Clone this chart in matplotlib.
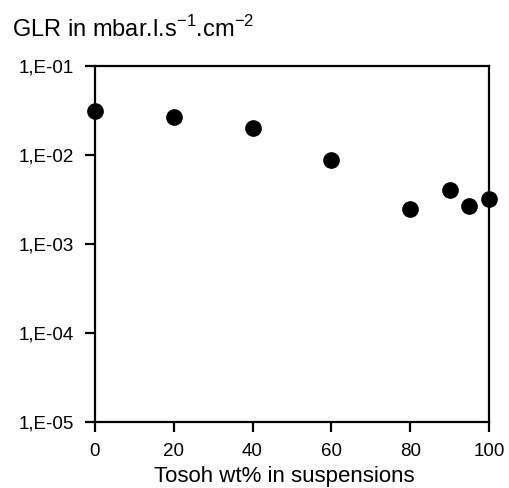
import matplotlib
matplotlib.use("Agg")
import matplotlib.pyplot as plt
from matplotlib.ticker import FixedLocator, NullLocator

plt.rcParams['font.family'] = ['Liberation Sans', 'DejaVu Sans']

# data
tosoh = [0, 20, 40, 60, 80, 90, 95, 100]
glr = [3.1e-2, 2.7e-2, 2.0e-2, 8.7e-3, 2.5e-3, 4.0e-3, 2.7e-3, 3.2e-3]
ytick_vals = [1e-5, 1e-4, 1e-3, 1e-2, 1e-1]
ytick_labels = ["1,E-05", "1,E-04", "1,E-03", "1,E-02", "1,E-01"]
xtick_vals = [0, 20, 40, 60, 80, 100]

fig = plt.figure(figsize=(5.1, 4.88), dpi=100)
ax = fig.add_axes([0.186, 0.135, 0.773, 0.73])

ax.plot(tosoh, glr, 'o', color='black', markersize=11, clip_on=False, zorder=5)

ax.set_yscale('log')
ax.set_ylim(1e-5, 1e-1)
ax.set_xlim(0, 100)
ax.yaxis.set_major_locator(FixedLocator(ytick_vals))
ax.yaxis.set_minor_locator(NullLocator())
ax.set_yticklabels(ytick_labels)
ax.set_xticks(xtick_vals)

for sp in ax.spines.values():
    sp.set_linewidth(1.6)
ax.tick_params(direction='out', length=7, width=1.6, labelsize=13.5, pad=8)
ax.tick_params(axis='y', pad=8)

ax.set_xlabel('Tosoh wt% in suspensions', fontsize=16)
ax.xaxis.set_label_coords(0.48, -0.124)
fig.text(0.024, 0.924, r'GLR in mbar.l.s$^{\mathregular{-1}}$.cm$^{\mathregular{-2}}$',
         fontsize=17, ha='left', va='baseline')

fig.savefig('out.png', dpi=100)
